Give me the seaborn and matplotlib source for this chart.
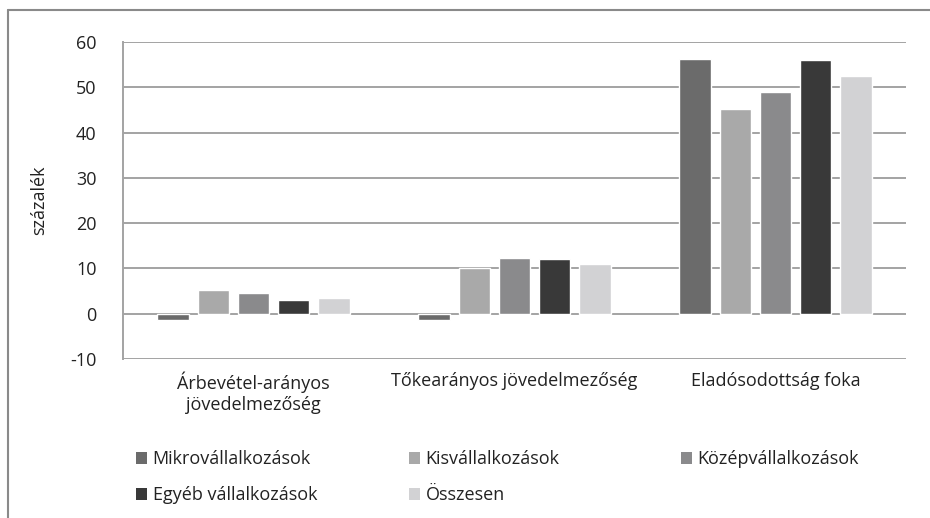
import pandas as pd
import matplotlib.pyplot as plt
import seaborn as sns
from matplotlib.patches import Patch
from matplotlib.lines import Line2D

# Adatok
kategoriak = ['Árbevétel-arányos\njövedelmezőség', 'Tőkearányos jövedelmezőség', 'Eladósodottság foka']
sorozatok = ['Mikrovállalkozások', 'Kisvállalkozások', 'Középvállalkozások', 'Egyéb vállalkozások', 'Összesen']
mikro = [-1.3, -1.3, 56.3]
kis = [5.3, 10.1, 45.1]
kozep = [4.6, 12.2, 48.9]
egyeb = [3.0, 12.1, 56.0]
osszesen = [3.5, 10.9, 52.6]
szinek = ['#6b6b6b', '#a9a9a9', '#8a8a8c', '#393939', '#d2d2d4']

ertekek = [mikro, kis, kozep, egyeb, osszesen]
rows = []
for nev, vals in zip(sorozatok, ertekek):
    for kat, v in zip(kategoriak, vals):
        rows.append({'kategoria': kat, 'sorozat': nev, 'ertek': v})
df = pd.DataFrame(rows)

sns.set_style('white')
plt.rcParams['font.family'] = ['Open Sans', 'DejaVu Sans']
plt.rcParams['axes.unicode_minus'] = False

fig = plt.figure(figsize=(9.3, 5.18), dpi=100)
ax = fig.add_axes([123 / 930, 1 - 359 / 518, (906 - 123) / 930, (359 - 42) / 518])

sns.barplot(data=df, x='kategoria', y='ertek', hue='sorozat', palette=szinek,
            hue_order=sorozatok, order=kategoriak, width=0.77, gap=0.22,
            legend=False, ax=ax)

ax.set_ylim(-10, 60)
ax.set_yticks(range(-10, 61, 10))
ax.yaxis.grid(True, color='#a3a3a3', linewidth=1.4)
ax.set_axisbelow(True)
for s in ['top', 'right', 'bottom']:
    ax.spines[s].set_visible(False)
ax.spines['left'].set_color('#a3a3a3')
ax.spines['left'].set_linewidth(1.4)
ax.tick_params(axis='both', length=0, labelsize=13, colors='#222222', pad=9)
ax.tick_params(axis='y', pad=19)
ax.set_xlabel('')
ax.set_ylabel('százalék', fontsize=13, color='#222222', labelpad=16)

# jelmagyarázat oszloponként (sorfolytonos sorrend, mint az eredetin)
oszlopok = [[0, 3], [1, 4], [2]]
oszlop_x = [131, 404, 676]
for idx, x in zip(oszlopok, oszlop_x):
    handles = [Patch(facecolor=szinek[i], edgecolor='none') for i in idx]
    labels = [sorozatok[i] for i in idx]
    leg = fig.legend(handles, labels, loc='upper left', bbox_to_anchor=(x / 930, 1 - 445 / 518),
                     frameon=False, fontsize=13, handlelength=0.6, handleheight=0.6,
                     handletextpad=0.3, labelspacing=1.0, borderaxespad=0, borderpad=0.3)
    for t in leg.get_texts():
        t.set_color('#222222')

# keret
fig.add_artist(Line2D([8 / 930, 1], [1 - 10 / 518, 1 - 10 / 518], color='#8a8a8a', linewidth=1.5))
fig.add_artist(Line2D([8 / 930, 8 / 930], [0, 1 - 10 / 518], color='#8a8a8a', linewidth=1.5))

fig.savefig('out.png', dpi=100, facecolor='white')
